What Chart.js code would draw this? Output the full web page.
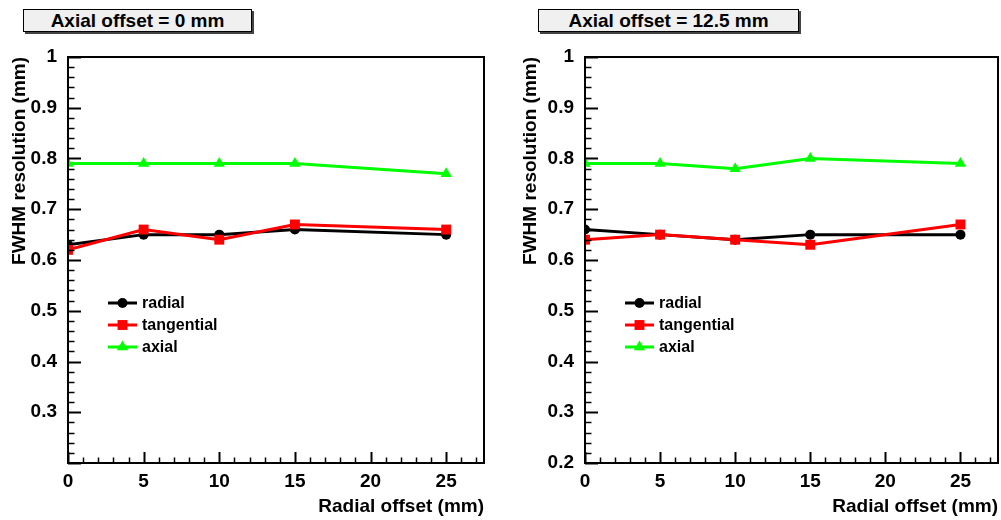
<!DOCTYPE html>
<html>
<head>
<meta charset="utf-8">
<script src="https://cdn.jsdelivr.net/npm/chart.js@4.4.1/dist/chart.umd.min.js"></script>
<style>
  body { margin: 0; background: #fff; width: 1001px; height: 520px; overflow: hidden; position: relative; font-family: "Liberation Sans", Arial, sans-serif; }
  canvas { position: absolute; top: 0; }
  .pave { position: absolute; top: 9px; height: 21px; border: 1px solid #000; background: #f0f0f0;
          box-shadow: 2px 2px 0 #444; font-weight: bold; font-size: 19px; line-height: 21px; text-align: center; }
</style>
</head>
<body>
<div class="pave" style="left:23px;width:227px;">Axial offset = 0 mm</div>
<div class="pave" style="left:538px;width:259px;">Axial offset = 12.5 mm</div>
<canvas id="c0" width="500" height="520" style="left:0"></canvas>
<canvas id="c1" width="490" height="520" style="left:511px"></canvas>
<script>
const radialOffset = [0, 5, 10, 15, 25];
const seriesNames = ['radial', 'tangential', 'axial'];
const seriesColors = ['#000000', '#ff0000', '#00ff00'];
const seriesMarkers = ['circle', 'rect', 'triangle'];

// axial offset = 0 mm
const radialA = [0.63, 0.65, 0.65, 0.66, 0.65];
const tangentialA = [0.62, 0.66, 0.64, 0.67, 0.66];
const axialA = [0.79, 0.79, 0.79, 0.79, 0.77];

// axial offset = 12.5 mm
const radialB = [0.66, 0.65, 0.64, 0.65, 0.65];
const tangentialB = [0.64, 0.65, 0.64, 0.63, 0.67];
const axialB = [0.79, 0.79, 0.78, 0.80, 0.79];

const yTicks = [0.2, 0.3, 0.4, 0.5, 0.6, 0.7, 0.8, 0.9, 1];
const xTicks = [0, 5, 10, 15, 20, 25];

const FONT = "'Liberation Sans', Arial, sans-serif";
const markerSize = { circle: 5, rect: 7, triangle: 6.5 };

// frame, inner ticks (ROOT style) and the small legend
const frameAndLegend = {
  id: 'frameAndLegend',
  afterDraw(chart) {
    const ctx = chart.ctx;
    const a = chart.chartArea;
    const xs = chart.scales.x, ys = chart.scales.y;
    ctx.save();
    ctx.strokeStyle = '#000';
    ctx.lineWidth = 2;
    ctx.strokeRect(a.left, a.top, a.right - a.left, a.bottom - a.top);

    // y ticks every 0.02, major every 0.1
    for (let i = 0; i <= 40; i++) {
      const y = Math.round(ys.getPixelForValue(0.2 + i * 0.02)) + 0.5;
      const len = i % 5 === 0 ? 13 : 6.5;
      ctx.lineWidth = i % 5 === 0 ? 2 : 1.5;
      ctx.beginPath();
      ctx.moveTo(a.left, y);
      ctx.lineTo(a.left + len, y);
      ctx.stroke();
    }
    // x ticks every 1, major every 5
    for (let i = 0; i <= 27; i++) {
      const x = Math.round(xs.getPixelForValue(i)) + 0.5;
      const len = i % 5 === 0 ? 11 : 5.5;
      ctx.lineWidth = i % 5 === 0 ? 2 : 1.5;
      ctx.beginPath();
      ctx.moveTo(x, a.bottom);
      ctx.lineTo(x, a.bottom - len);
      ctx.stroke();
    }

    // legend
    chart.data.datasets.forEach((ds, k) => {
      const y = a.top + 246 + k * 22;
      const x0 = a.left + 40;
      ctx.strokeStyle = ds.borderColor;
      ctx.fillStyle = ds.backgroundColor;
      ctx.lineWidth = 3;
      ctx.beginPath();
      ctx.moveTo(x0, y);
      ctx.lineTo(x0 + 29, y);
      ctx.stroke();
      const cx = x0 + 14.5;
      const r = markerSize[ds.pointStyle];
      ctx.beginPath();
      if (ds.pointStyle === 'circle') {
        ctx.arc(cx, y, r, 0, Math.PI * 2);
      } else if (ds.pointStyle === 'rect') {
        const s = r * Math.SQRT1_2;
        ctx.rect(cx - s, y - s, 2 * s, 2 * s);
      } else {
        ctx.moveTo(cx, y - r);
        ctx.lineTo(cx + r * 0.866, y + r / 2);
        ctx.lineTo(cx - r * 0.866, y + r / 2);
        ctx.closePath();
      }
      ctx.fill();
      ctx.fillStyle = '#000';
      ctx.font = 'bold 16px ' + FONT;
      ctx.textBaseline = 'middle';
      ctx.textAlign = 'left';
      ctx.fillText(ds.label, x0 + 34, y + 1);
    });
    ctx.restore();
  }
};

function makeChart(id, values, yAxisWidth, padRight, showBottomLabel) {
  const datasets = values.map((v, k) => ({
    label: seriesNames[k],
    data: radialOffset.map((x, i) => ({ x: x, y: v[i] })),
    borderColor: seriesColors[k],
    backgroundColor: seriesColors[k],
    borderWidth: 3,
    pointStyle: seriesMarkers[k],
    pointRadius: markerSize[seriesMarkers[k]],
    pointBorderWidth: 0,
    tension: 0,
    order: 3 - k
  }));

  return new Chart(document.getElementById(id), {
    type: 'line',
    data: { datasets: datasets },
    plugins: [frameAndLegend],
    options: {
      responsive: false,
      animation: false,
      layout: { autoPadding: false, padding: { left: 0, top: 57, right: padRight, bottom: 0 } },
      plugins: { legend: { display: false }, tooltip: { enabled: false } },
      scales: {
        x: {
          type: 'linear',
          min: 0,
          max: 27.5,
          afterBuildTicks: s => { s.ticks = xTicks.map(v => ({ value: v })); },
          afterFit: s => { s.height = 57; },
          grid: { display: false },
          border: { display: false },
          ticks: { color: '#000', padding: -1, font: { family: FONT, size: 19, weight: 'bold' } },
          title: {
            display: true, text: 'Radial offset (mm)', align: 'end', color: '#000',
            padding: { top: 0, bottom: 2 },
            font: { family: FONT, size: 19, weight: 'bold' }
          }
        },
        y: {
          min: 0.2,
          max: 1,
          afterBuildTicks: s => { s.ticks = yTicks.map(v => ({ value: v })); },
          afterFit: s => { s.width = yAxisWidth; },
          grid: { display: false },
          border: { display: false },
          ticks: {
            color: '#000', padding: 3,
            font: { family: FONT, size: 19, weight: 'bold' },
            callback: v => (v === 0.2 && !showBottomLabel) ? '' : String(Math.round(v * 10) / 10)
          },
          title: {
            display: true, text: 'FWHM resolution (mm)', align: 'end', color: '#000',
            padding: { top: 8, bottom: 0 },
            font: { family: FONT, size: 19, weight: 'bold' }
          }
        }
      }
    }
  });
}

makeChart('c0', [radialA, tangentialA, axialA], 68, 16, false);
makeChart('c1', [radialB, tangentialB, axialB], 74, 3, true);
</script>
</body>
</html>
